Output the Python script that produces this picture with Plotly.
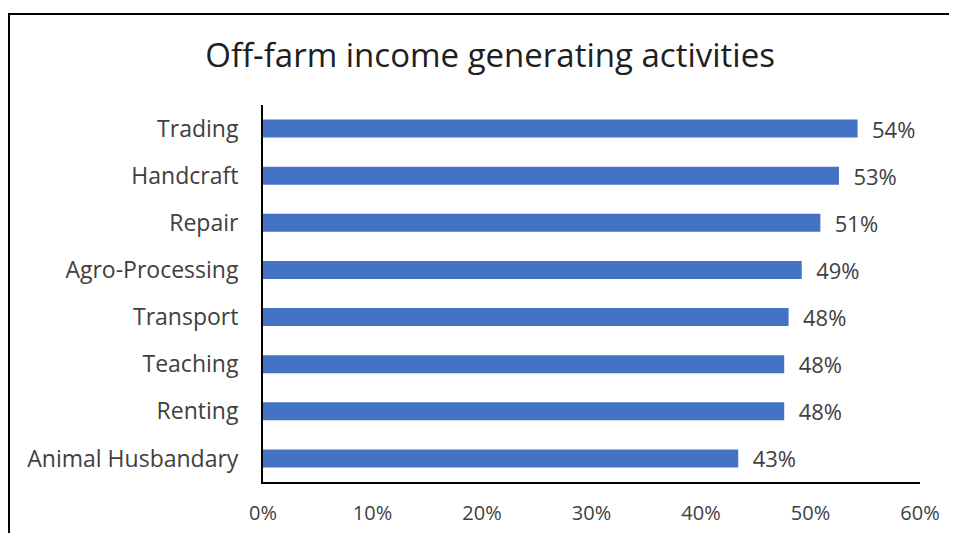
import plotly.graph_objects as go

categories = ["Animal Husbandary", "Renting", "Teaching", "Transport",
              "Agro-Processing", "Repair", "Handcraft", "Trading"]
values = [43.4, 47.6, 47.6, 48.0, 49.2, 50.9, 52.6, 54.3]
labels = ["43%", "48%", "48%", "48%", "49%", "51%", "53%", "54%"]
tick_vals = [0, 10, 20, 30, 40, 50, 60]
tick_text = ["0%", "10%", "20%", "30%", "40%", "50%", "60%"]

FONT = "Open Sans"
TXT = "#404040"

fig = go.Figure(go.Bar(
    y=categories, x=values, orientation="h",
    marker=dict(color="#4472C4", line=dict(width=0)),
    text=["  " + t for t in labels], textposition="outside",
    constraintext="none",
    textfont=dict(family=FONT, size=22, color=TXT),
    cliponaxis=False,
))

fig.update_layout(
    width=949, height=525,
    margin=dict(l=255, r=37, t=97, b=51, autoexpand=False),
    paper_bgcolor="white", plot_bgcolor="white",
    bargap=0.62,
    showlegend=False,
    title=dict(text="Off-farm income generating activities", x=0.508, xanchor="center",
               y=1 - 47 / 525, yanchor="middle",
               font=dict(family=FONT, size=33, color="#202020")),
    xaxis=dict(range=[0, 60], tickvals=tick_vals, ticktext=tick_text,
               showgrid=False, zeroline=False, showline=True, linecolor="#000000",
               linewidth=2, ticks="", ticklabelstandoff=12, automargin=False,
               tickfont=dict(family=FONT, size=20, color=TXT)),
    yaxis=dict(showgrid=False, zeroline=False, showline=True, linecolor="#000000",
               linewidth=2, ticks="", ticklabelstandoff=18, automargin=False,
               tickfont=dict(family=FONT, size=23, color=TXT)),
    shapes=[dict(type="rect", xref="paper", yref="paper",
                 x0=-0.3866, x1=1.0487, y0=-0.3, y1=1.2414,
                 line=dict(color="#000000", width=2), fillcolor="rgba(0,0,0,0)")],
)

fig.write_html("out.html")
